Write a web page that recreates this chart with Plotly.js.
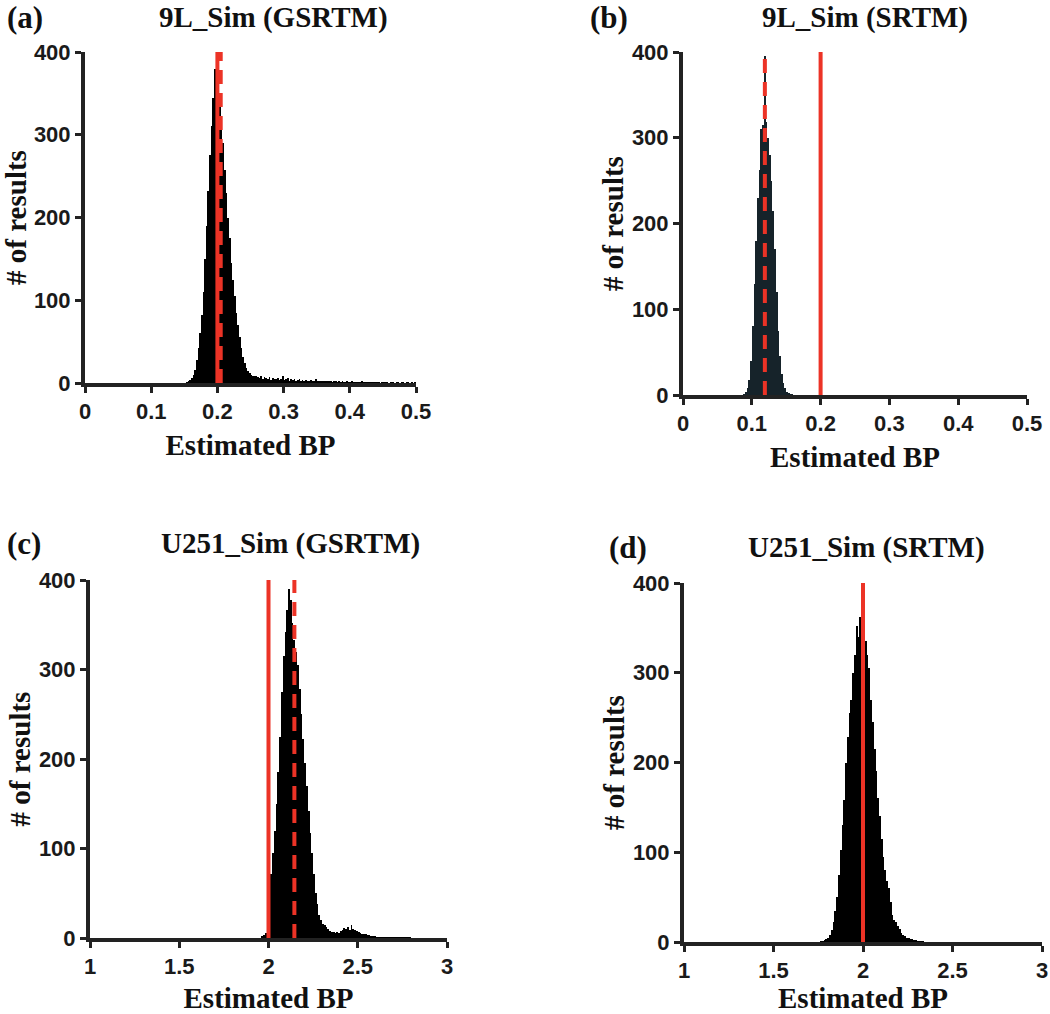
<!DOCTYPE html>
<html>
<head>
<meta charset="utf-8">
<script src="https://cdn.plot.ly/plotly-3.0.1.min.js"></script>
<style>html,body{margin:0;padding:0;background:#fff;}#chart{width:1050px;height:1014px;}</style>
</head>
<body>
<div id="chart"></div>
<script>
// ---- Data ----
const panelTitles = ["9L_Sim (GSRTM)", "9L_Sim (SRTM)", "U251_Sim (GSRTM)", "U251_Sim (SRTM)"];
const panelLabels = ["(a)", "(b)", "(c)", "(d)"];
const xTitle = "Estimated BP";
const yTitle = "# of results";

// histogram bins: start and width of each panel's bins
const binStartA = 0.15, binWidthA = 0.0025;
const countsA = [0,1,2,4,6,10,16,28,42,60,82,110,150,190,232,275,310,345,380,400,392,350,318,290,258,230,200,175,145,125,105,85,70,55,42,32,24,18,14,12,10,9,9,8,7,
  6,8,5,7,6,5,7,4,6,5,
  5,6,4,5,8,4,5,6,3,5,
  4,5,3,4,5,3,4,3,4,3,
  3,4,2,3,5,2,3,2,3,2,
  2,3,2,2,1,2,2,1,2,1,
  2,1,1,2,1,1,2,1,1,1,
  1,1,2,1,1,1,1,1,1,1,
  1,1,1,0,1,1,1,1,0,1,
  1,1,0,1,1,0,1,1,0,1,
  1,0,1,0,1];

const binStartB = 0.085, binWidthB = 0.0025;
const countsB = [0,1,3,8,18,40,80,130,180,230,262,310,315,395,318,300,280,250,215,170,120,75,45,25,14,8,4,2,1,1,0];

const binStartC = 1.95, binWidthC = 0.01;
const countsC = [0,2,3,6,12,55,72,95,120,150,185,225,275,315,342,366,390,378,352,333,320,305,278,250,222,195,170,142,117,95,72,50,38,26,20,16,14,12,10,8,7,7,6,7,6,8,9,11,10,12,9,14,10,9,8,7,6,5,5,4,3,3,2,2,2,
  1,1,1,1,1,1,1,1,1,1,1,1,1,1,1,1,1,1,1,1,0];

const binStartD = 1.75, binWidthD = 0.01;
const countsD = [0,1,1,2,3,5,8,13,22,35,50,75,102,130,158,200,228,255,270,300,320,352,340,362,368,360,335,320,305,270,245,215,190,160,140,115,95,80,68,60,45,30,24,22,18,14,10,8,7,5,4,3,3,2,2,1,1,1,1,0];

// true BP (solid red) and mean estimated BP (dashed red)
const trueBP = [0.2, 0.2, 2.0, 2.0];
const meanBP = [0.205, 0.119, 2.145, 2.0];
const lineTop = 400;

const xRanges = [[0, 0.5], [0, 0.5], [1, 3], [1, 3]];
const xTicks = [[0, 0.1, 0.2, 0.3, 0.4, 0.5], [0, 0.1, 0.2, 0.3, 0.4, 0.5], [1, 1.5, 2, 2.5, 3], [1, 1.5, 2, 2.5, 3]];
const xTickText = [["0","0.1","0.2","0.3","0.4","0.5"], ["0","0.1","0.2","0.3","0.4","0.5"], ["1","1.5","2","2.5","3"], ["1","1.5","2","2.5","3"]];
const yTicks = [0, 100, 200, 300, 400];
const yTickText = ["0", "100", "200", "300", "400"];

// ---- Build ----
const W = 1050, H = 1014;
const boxes = [ // pixel boxes [x0,x1,y0(top),y1(bottom)]
  [85, 416, 52, 383],
  [683, 1027, 52, 395],
  [90, 447, 580, 938],
  [684, 1042, 583, 942]
];
const barColors = ["#000000", "#16232a", "#000000", "#000000"];
const red = "#ec3326";
const hist = [
  {start: binStartA, w: binWidthA, c: countsA},
  {start: binStartB, w: binWidthB, c: countsB},
  {start: binStartC, w: binWidthC, c: countsC},
  {start: binStartD, w: binWidthD, c: countsD}
];

const data = [];
const layout = {
  width: W, height: H,
  margin: {l: 0, r: 0, t: 0, b: 0},
  paper_bgcolor: "#fff", plot_bgcolor: "rgba(0,0,0,0)",
  showlegend: false, bargap: 0,
  annotations: []
};
const bold = s => "<b>" + s + "</b>";
const tickFont = {family: "Liberation Sans", size: 22, color: "#1a1a1a", weight: "bold"};
const titleFont = {family: "Liberation Serif", size: 29, color: "#111", weight: "bold"};

// title annotation positions [titleX, titleY, labelX, labelY]
const titlePos = [
  [273, 18, 5, 18],
  [865, 18, 588, 18],
  [290, 543, 5, 543],
  [866, 547, 607, 547]
];

for (let i = 0; i < 4; i++) {
  const n = i + 1;
  const xa = "x" + (n === 1 ? "" : n), ya = "y" + (n === 1 ? "" : n);
  const h = hist[i];
  const centers = h.c.map((_, k) => h.start + (k + 0.5) * h.w);
  data.push({
    type: "bar", x: centers, y: h.c, width: h.w,
    marker: {color: barColors[i], line: {width: 0}},
    xaxis: xa, yaxis: ya, hoverinfo: "x+y"
  });
  const dashTrace = {type: "scatter", mode: "lines", x: [meanBP[i], meanBP[i]], y: [0, lineTop],
    line: {color: red, width: 4, dash: "14px,9px"}, xaxis: xa, yaxis: ya};
  const solidTrace = {type: "scatter", mode: "lines", x: [trueBP[i], trueBP[i]], y: [0, lineTop],
    line: {color: red, width: 4}, xaxis: xa, yaxis: ya};
  if (i === 3) { data.push(dashTrace); data.push(solidTrace); }
  else { data.push(solidTrace); data.push(dashTrace); }

  const b = boxes[i];
  const axCommon = {
    showline: true, linewidth: 4, linecolor: "#222", mirror: false,
    ticks: "outside", ticklen: 6, tickwidth: 3, tickcolor: "#222",
    showgrid: false, zeroline: false, tickfont: tickFont, fixedrange: true
  };
  layout["xaxis" + (n === 1 ? "" : n)] = Object.assign({}, axCommon, {
    domain: [b[0] / W, b[1] / W], anchor: ya, range: xRanges[i],
    tickvals: xTicks[i], ticktext: xTickText[i].map(bold),
    title: {text: bold(xTitle), font: titleFont, standoff: 12}
  });
  layout["yaxis" + (n === 1 ? "" : n)] = Object.assign({}, axCommon, {
    domain: [1 - b[3] / H, 1 - b[2] / H], anchor: xa, range: [0, 400],
    tickvals: yTicks, ticktext: yTickText.map(bold),
    title: {text: bold(yTitle), font: titleFont, standoff: 1}
  });
  const tp = titlePos[i];
  layout.annotations.push({
    xref: "paper", yref: "paper", x: tp[0] / W, y: 1 - tp[1] / H,
    xanchor: "center", yanchor: "middle", showarrow: false,
    text: bold(panelTitles[i]), font: titleFont
  });
  layout.annotations.push({
    xref: "paper", yref: "paper", x: tp[2] / W, y: 1 - tp[3] / H,
    xanchor: "left", yanchor: "middle", showarrow: false,
    text: bold(panelLabels[i]), font: Object.assign({}, titleFont, {size: 31})
  });
}

Plotly.newPlot("chart", data, layout, {displayModeBar: false, staticPlot: true});
</script>
</body>
</html>
